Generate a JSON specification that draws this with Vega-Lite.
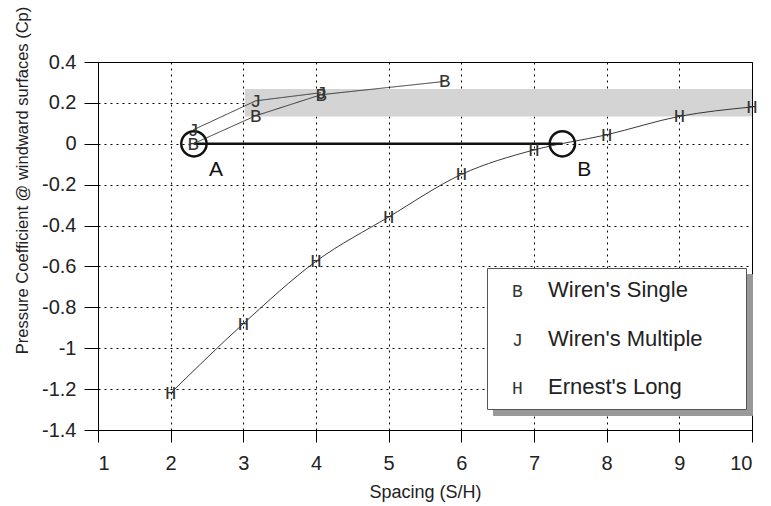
{
  "$schema": "https://vega.github.io/schema/vega-lite/v6.json",
  "width": 654,
  "height": 368,
  "autosize": {"type": "none"},
  "padding": {"left": 98, "top": 62, "right": 19, "bottom": 76},
  "background": "white",
  "config": {
    "view": {"stroke": "#000", "strokeWidth": 1},
    "axis": {
      "zindex": 1,
      "domainColor": "#000",
      "tickColor": "#000",
      "gridColor": "#000",
      "gridDash": [2, 4],
      "gridWidth": 1,
      "labelFont": "Liberation Sans",
      "titleFont": "Liberation Sans",
      "labelFontSize": 20,
      "titleFontSize": 18,
      "labelColor": "#222",
      "titleColor": "#222",
      "titleFontWeight": "normal"
    }
  },
  "datasets": {
    "series": [
      {"series": "Wiren's Single", "letter": "B", "x": 2.31, "y": 0.0},
      {"series": "Wiren's Single", "letter": "B", "x": 3.17, "y": 0.137},
      {"series": "Wiren's Single", "letter": "B", "x": 4.07, "y": 0.24},
      {"series": "Wiren's Single", "letter": "B", "x": 5.77, "y": 0.305},
      {"series": "Wiren's Multiple", "letter": "J", "x": 2.31, "y": 0.068},
      {"series": "Wiren's Multiple", "letter": "J", "x": 3.17, "y": 0.21},
      {"series": "Wiren's Multiple", "letter": "J", "x": 4.07, "y": 0.25},
      {"series": "Ernest's Long", "letter": "H", "x": 2, "y": -1.22},
      {"series": "Ernest's Long", "letter": "H", "x": 3, "y": -0.88},
      {"series": "Ernest's Long", "letter": "H", "x": 4, "y": -0.575},
      {"series": "Ernest's Long", "letter": "H", "x": 5, "y": -0.358},
      {"series": "Ernest's Long", "letter": "H", "x": 6, "y": -0.15},
      {"series": "Ernest's Long", "letter": "H", "x": 7, "y": -0.03},
      {"series": "Ernest's Long", "letter": "H", "x": 8, "y": 0.044},
      {"series": "Ernest's Long", "letter": "H", "x": 9, "y": 0.134},
      {"series": "Ernest's Long", "letter": "H", "x": 10, "y": 0.18}
    ],
    "band": [{"x": 3.02, "x2": 10, "y": 0.134, "y2": 0.268}],
    "baseline": [{"x": 2.32, "x2": 7.39, "y": 0}],
    "points": [{"label": "A", "x": 2.32, "y": 0}, {"label": "B", "x": 7.39, "y": 0}]
  },
  "layer": [
    {
      "data": {"name": "band"},
      "mark": {"type": "rect", "color": "#d4d4d4"},
      "encoding": {
        "x": {
          "field": "x", "type": "quantitative",
          "scale": {"domain": [1, 10], "nice": false, "zero": false},
          "axis": {
            "values": [1, 2, 3, 4, 5, 6, 7, 8, 9, 10],
            "format": "d",
            "title": "Spacing (S/H)",
            "grid": true,
            "tickSize": 12,
            "labelPadding": 11,
            "titlePadding": 10
          }
        },
        "x2": {"field": "x2"},
        "y": {
          "field": "y", "type": "quantitative",
          "scale": {"domain": [-1.4, 0.4], "nice": false, "zero": false},
          "axis": {
            "values": [-1.4, -1.35, -1.3, -1.25, -1.2, -1.15, -1.1, -1.05, -1.0, -0.95, -0.9, -0.85, -0.8, -0.75, -0.7, -0.65, -0.6, -0.55, -0.5, -0.45, -0.4, -0.35, -0.3, -0.25, -0.2, -0.15, -0.1, -0.05, 0, 0.05, 0.1, 0.15, 0.2, 0.25, 0.3, 0.35, 0.4],
            "title": "Pressure Coefficient @ windward surfaces (Cp)",
            "titleFontSize": 16.5,
            "grid": true,
            "labelOverlap": false,
            "labelExpr": "abs(datum.value*5 - round(datum.value*5)) < 0.001 ? '' + round(datum.value*10)/10 : ''",
            "gridOpacity": {"condition": {"test": "abs(datum.value*5 - round(datum.value*5)) < 0.001", "value": 1}, "value": 0},
            "tickSize": {"condition": {"test": "abs(datum.value*5 - round(datum.value*5)) < 0.001", "value": 14}, "value": 6},
            "labelPadding": 8,
            "titleX": -68,
            "titleY": 118
          }
        },
        "y2": {"field": "y2"}
      }
    },
    {
      "data": {"name": "baseline"},
      "mark": {"type": "rule", "strokeWidth": 2.5, "color": "#111"},
      "encoding": {
        "x": {"field": "x", "type": "quantitative"},
        "x2": {"field": "x2"},
        "y": {"field": "y", "type": "quantitative"}
      }
    },
    {
      "data": {"name": "points"},
      "mark": {"type": "point", "shape": "circle", "size": 640, "filled": false, "strokeWidth": 2.5, "color": "#111", "opacity": 1},
      "encoding": {
        "x": {"field": "x", "type": "quantitative"},
        "y": {"field": "y", "type": "quantitative"}
      }
    },
    {
      "data": {"name": "points"},
      "mark": {"type": "text", "font": "Liberation Sans", "fontSize": 21, "dx": 22, "dy": 26, "align": "center", "baseline": "middle", "color": "#111"},
      "encoding": {
        "x": {"field": "x", "type": "quantitative"},
        "y": {"field": "y", "type": "quantitative"},
        "text": {"field": "label"}
      }
    },
    {
      "data": {"name": "series"},
      "transform": [{"filter": "datum.letter != 'H'"}],
      "mark": {"type": "line", "strokeWidth": 0.9},
      "encoding": {
        "x": {"field": "x", "type": "quantitative"},
        "y": {"field": "y", "type": "quantitative"},
        "strokeDash": {
          "field": "series", "type": "nominal",
          "scale": {"domain": ["Wiren's Single", "Wiren's Multiple", "Ernest's Long"], "range": [[1, 0], [1, 0], [1, 0]]},
          "legend": {
            "orient": "none", "legendX": 389, "legendY": 206, "title": null,
            "padding": 11, "fillColor": "#ffffff", "strokeColor": "#555555",
            "labelFont": "Liberation Sans", "labelFontSize": 22, "labelColor": "#222",
            "labelOffset": 28, "labelLimit": 400, "rowPadding": 26.5,
            "symbolType": "circle", "symbolSize": 1, "symbolOpacity": 0, "symbolStrokeWidth": 0,
            "labelExpr": "datum.label + '\u2800\u2800'",
            "zindex": 2
          }
        },
        "stroke": {
          "field": "series", "type": "nominal",
          "scale": {"domain": ["Ernest's Long", "Wiren's Multiple", "Wiren's Single"], "range": ["#222", "#222", "#222"]},
          "legend": {
            "orient": "none", "legendX": 395, "legendY": 212, "title": null,
            "padding": 11, "fillColor": "#999999", "strokeColor": "#999999",
            "labelFont": "Liberation Sans", "labelFontSize": 22, "labelOpacity": 0,
            "labelOffset": 28, "labelLimit": 400, "rowPadding": 26.5,
            "symbolType": "circle", "symbolSize": 1, "symbolOpacity": 0, "symbolStrokeWidth": 0,
            "labelExpr": "datum.label + '\u2800\u2800'",
            "zindex": 1
          }
        }
      }
    },
    {
      "data": {"name": "series"},
      "transform": [{"filter": "datum.letter == 'H'"}],
      "mark": {"type": "line", "strokeWidth": 0.9, "color": "#222", "interpolate": "monotone"},
      "encoding": {
        "x": {"field": "x", "type": "quantitative"},
        "y": {"field": "y", "type": "quantitative"}
      }
    },
    {
      "data": {"name": "series"},
      "mark": {"type": "text", "font": "Liberation Mono", "fontSize": 19, "align": "center", "baseline": "middle"},
      "encoding": {
        "x": {"field": "x", "type": "quantitative"},
        "y": {"field": "y", "type": "quantitative"},
        "text": {"field": "letter"},
        "color": {
          "field": "letter", "type": "nominal",
          "scale": {"domain": ["B", "J", "H"], "range": ["#333", "#333", "#333"]},
          "legend": {
            "orient": "none", "legendX": 394, "legendY": 221, "title": null,
            "padding": 0,
            "labelFont": "Liberation Mono", "labelFontSize": 18, "labelColor": "#333",
            "labelOffset": 2, "rowPadding": 30.5,
            "symbolType": "circle", "symbolSize": 1, "symbolOpacity": 0, "symbolStrokeWidth": 0,
            "zindex": 3
          }
        }
      }
    }
  ]
}
